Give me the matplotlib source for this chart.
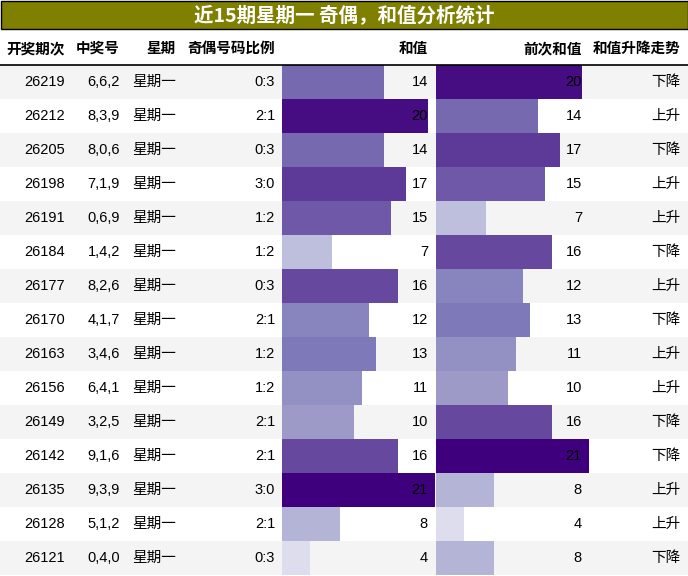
import matplotlib
matplotlib.use("Agg")
import matplotlib.pyplot as plt
from matplotlib.patches import Rectangle
from matplotlib import cm, colors

plt.rcParams['font.family'] = ['Noto Sans CJK SC', 'DejaVu Sans']

periods = ["26219","26212","26205","26198","26191","26184","26177","26170","26163","26156","26149","26142","26135","26128","26121"]
numbers = ["6,6,2","8,3,9","8,0,6","7,1,9","0,6,9","1,4,2","8,2,6","4,1,7","3,4,6","6,4,1","3,2,5","9,1,6","9,3,9","5,1,2","0,4,0"]
weekday = ["星期一"]*15
ratio = ["0:3","2:1","0:3","3:0","1:2","1:2","0:3","2:1","1:2","1:2","2:1","2:1","3:0","2:1","0:3"]
sums = [14,20,14,17,15,7,16,12,13,11,10,16,21,8,4]
prev_sums = [20,14,17,15,7,16,12,13,11,10,16,21,8,4,8]
trend = ["下降","上升","下降","上升","上升","下降","上升","下降","上升","上升","下降","下降","上升","上升","下降"]
headers = ["开奖期次","中奖号","星期","奇偶号码比例","和值","前次和值","和值升降走势"]
title = "近15期星期一 奇偶，和值分析统计"

W, H = 688, 576
fig = plt.figure(figsize=(W/100, H/100), dpi=100)
ax = fig.add_axes([0, 0, 1, 1])
ax.set_xlim(0, W); ax.set_ylim(H, 0); ax.axis('off')

ax.add_patch(Rectangle((0.5, 0.5), W-1, 28, facecolor='#808000', edgecolor='black', lw=1))
ax.text(W/2, 15, title, color='white', fontsize=14, fontweight='bold', ha='center', va='center')

hx = [65, 120, 176, 275, 428, 582, 680]
for x, h in zip(hx, headers):
    ax.text(x, 48, h, fontsize=10.5, fontweight='bold', ha='right', va='center')
ax.plot([0, W], [64.5, 64.5], color='black', lw=1.2)

cmap = plt.get_cmap('Purples')
norm = colors.Normalize(vmin=-1, vmax=21)
scale = 154/21
top, rh = 65, 34
for i in range(15):
    y = top + i*rh
    if i % 2 == 0:
        ax.add_patch(Rectangle((0, y), W, rh, facecolor='#f4f4f4', edgecolor='none'))
    ax.add_patch(Rectangle((282, y), sums[i]*scale - 1, rh, facecolor=cmap(norm(sums[i])), edgecolor='none'))
    ax.add_patch(Rectangle((436, y), prev_sums[i]*scale - 1, rh, facecolor=cmap(norm(prev_sums[i])), edgecolor='none'))
    cy = y + rh/2
    vals = [periods[i], numbers[i], weekday[i], ratio[i], str(sums[i]), str(prev_sums[i]), trend[i]]
    for x, v in zip(hx, vals):
        ax.text(x, cy, v, fontsize=10.5, ha='right', va='center', family=['Liberation Sans', 'Noto Sans CJK SC'])

fig.savefig('out.png', dpi=100)
